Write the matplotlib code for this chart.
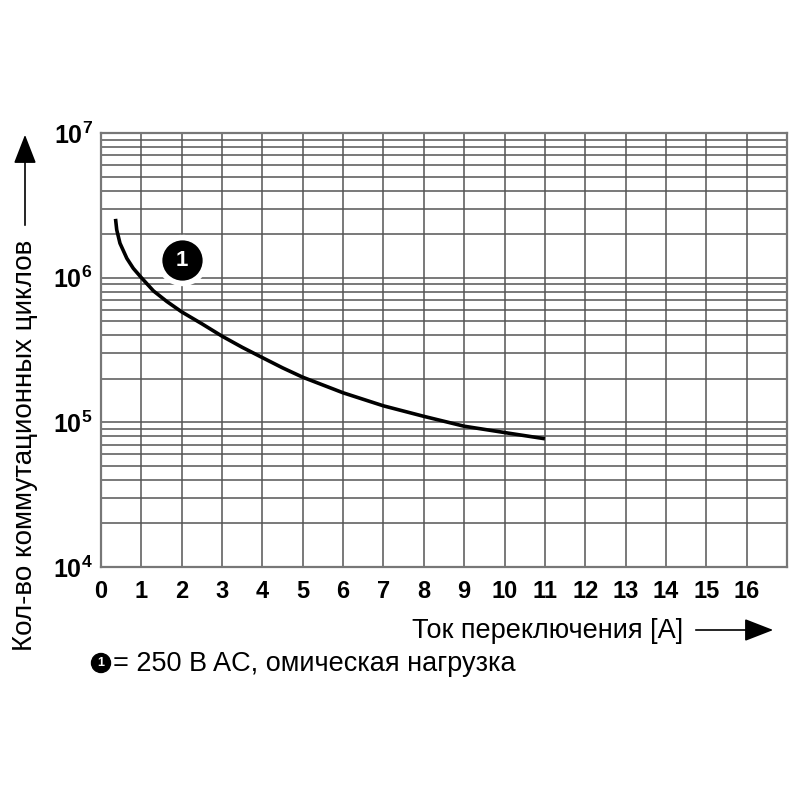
"""
Switching cycles vs. switching current (relay life curve, 250 V AC resistive load).
Outputs: out.png
"""

import numpy as np
import matplotlib.pyplot as plt
import matplotlib
from matplotlib.patches import Circle, FancyArrowPatch

matplotlib.rcParams.update({
    "font.family": ["Liberation Sans", "DejaVu Sans"],
    "font.size": 19,
    "mathtext.fontset": "custom",
    "mathtext.rm": "Liberation Sans",
    "mathtext.bf": "Liberation Sans:bold",
})

# Curve
current_a = [0.36, 0.39, 0.47, 0.64, 0.8, 1.0, 1.3, 1.63, 2.0, 2.5, 3.0,
             3.5, 4.0, 4.5, 5, 6, 7, 8, 9, 10, 11]
cycles = [2.55e6, 2.14e6, 1.73e6, 1.36e6, 1.16e6, 1.0e6, 8.1e5, 6.85e5,
          5.8e5, 4.8e5, 3.94e5, 3.3e5, 2.8e5, 2.38e5, 2.05e5, 1.6e5, 1.3e5,
          1.1e5, 9.4e4, 8.5e4, 7.7e4]

x_ticks = list(range(0, 17))
decades = [4, 5, 6, 7]
marker_pos = (2, 1.32e6)

Y_LABEL = "Кол-во коммутационных циклов"
X_LABEL = "Ток переключения [A]"
NOTE = "= 250 В AC, омическая нагрузка"

GRID = "#555555"
W, H = 800, 800


def fx(px):
    return px / W


def fy(py):
    return 1 - py / H


fig = plt.figure(figsize=(8, 8), dpi=100)
ax = fig.add_axes([fx(101), fy(567), 686 / W, 434 / H])
ax.set_yscale("log")
ax.set_xlim(0, 17)
ax.set_ylim(1e4, 1e7)

# grid: every integer on x, every 1..9 x decade on y
for xv in range(1, 17):
    ax.axvline(xv, color=GRID, linewidth=1.1, zorder=1)
for d in decades[:-1]:
    for m in range(1, 10):
        ax.axhline(m * 10 ** d, color=GRID, linewidth=1.1, zorder=1)
for s in ax.spines.values():
    s.set_color("#777777")
    s.set_linewidth(1.6)

ax.plot(current_a, cycles, color="black", linewidth=2.6, zorder=3,
        solid_capstyle="butt", solid_joinstyle="round")

# callout "1"
ax.plot(*marker_pos, "o", markersize=33, color="black",
        markeredgecolor="white", markeredgewidth=4, zorder=4)
ax.text(*marker_pos, "1", color="white", fontsize=16, fontweight="bold",
        ha="center", va="center", zorder=5)

ax.set_xticks(x_ticks)
ax.set_xticklabels([str(v) for v in x_ticks], fontweight="bold", fontsize=17)
ax.set_yticks([10 ** d for d in decades])
ax.set_yticklabels([rf"$\mathbf{{10^{{{d}}}}}$" for d in decades], fontsize=18)
ax.minorticks_off()
ax.tick_params(length=0, pad=9)
ax.tick_params(axis="y", pad=6)

arrow_style = "-|>,head_length=0.9,head_width=0.35"

# axis labels with arrows
fig.text(fx(25), fy(651), Y_LABEL, rotation=90,
         ha="center", va="bottom", fontsize=20)
fig.add_artist(FancyArrowPatch(
    (fx(25), fy(228)), (fx(25), fy(132)), transform=fig.transFigure,
    arrowstyle=arrow_style, mutation_scale=20, color="black", linewidth=1.2))

fig.text(fx(683), fy(631), X_LABEL, ha="right", va="center", fontsize=19.5)
fig.add_artist(FancyArrowPatch(
    (fx(693), fy(630)), (fx(776), fy(630)), transform=fig.transFigure,
    arrowstyle=arrow_style, mutation_scale=20, color="black", linewidth=1.2))

# note line
fig.add_artist(Circle((fx(101), fy(663)), 9.5 / W, transform=fig.transFigure,
                      color="black"))
fig.text(fx(101), fy(663), "1", ha="center", va="center",
         fontsize=9, color="white", fontweight="bold")
fig.text(fx(113), fy(664), NOTE, ha="left", va="center", fontsize=19.5)

fig.savefig("out.png", dpi=100)
plt.close(fig)
